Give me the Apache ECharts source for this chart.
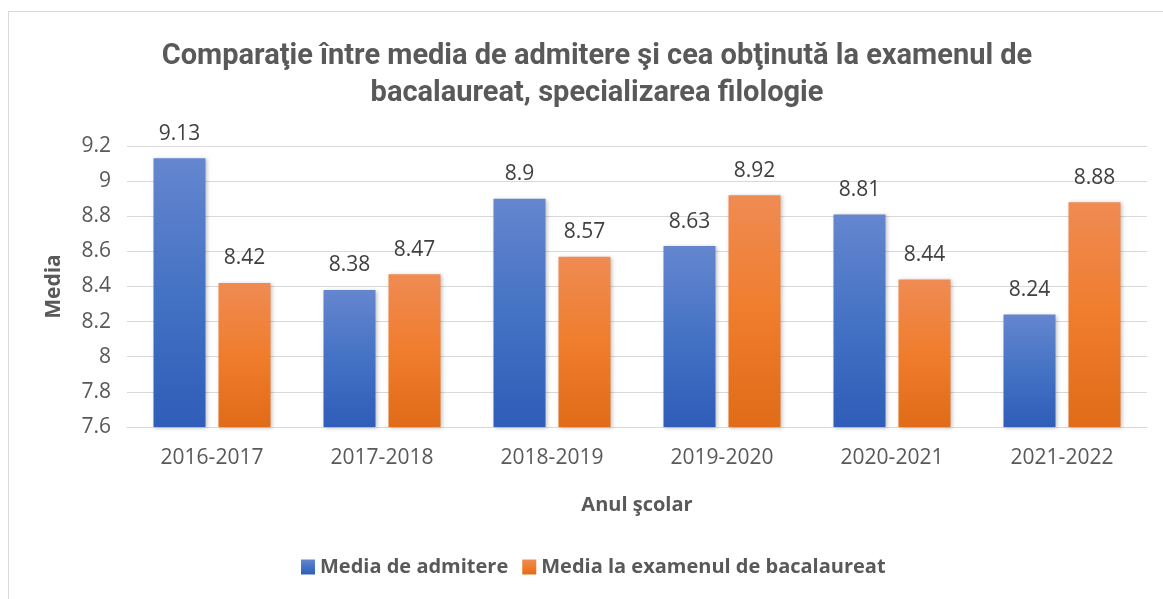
<!DOCTYPE html>
<html>
<head>
<meta charset="utf-8">
<script src="https://cdn.jsdelivr.net/npm/echarts@6/dist/echarts.min.js"></script>
<style>
  html, body { margin: 0; padding: 0; background: #fff; }
  #chart { width: 1163px; height: 599px; }
  .frame { position: absolute; left: 8px; top: 11px; width: 1170px; height: 600px; border: 1px solid #d9d9d9; pointer-events: none; }
</style>
</head>
<body>
<div id="chart"></div>
<div class="frame"></div>
<script>
var categories = ['2016-2017', '2017-2018', '2018-2019', '2019-2020', '2020-2021', '2021-2022']
var admitere = [9.13, 8.38, 8.9, 8.63, 8.81, 8.24]
var bacalaureat = [8.42, 8.47, 8.57, 8.92, 8.44, 8.88]
var yTicks = [7.6, 7.8, 8, 8.2, 8.4, 8.6, 8.8, 9, 9.2]

var chart = echarts.init(document.getElementById('chart'))
var font = 'Open Sans, DejaVu Sans, sans-serif'

function grad(top, mid, bottom) {
  return new echarts.graphic.LinearGradient(0, 0, 0, 1, [
    { offset: 0, color: top },
    { offset: 0.5, color: mid },
    { offset: 1, color: bottom }
  ])
}

var option = {
  animation: false,
  title: {
    text: 'Comparaţie între media de admitere şi cea obţinută la examenul de\nbacalaureat, specializarea filologie',
    left: 592,
    textAlign: 'center',
    top: 33,
    textStyle: {
      color: '#595959',
      fontSize: 29,
      fontWeight: 'bold',
      fontFamily: 'Roboto, sans-serif',
      lineHeight: 37
    }
  },
  legend: {
    bottom: 17,
    left: 296,
    itemWidth: 14,
    itemHeight: 15,
    itemGap: 14,
    icon: 'rect',
    textStyle: { color: '#595959', fontSize: 20, fontWeight: 'bold', fontFamily: font },
    data: ['Media de admitere', 'Media la examenul de bacalaureat']
  },
  grid: { left: 127, right: 16, top: 146, bottom: 172, containLabel: false },
  xAxis: {
    type: 'category',
    data: categories,
    name: 'Anul şcolar',
    nameLocation: 'middle',
    nameGap: 68,
    nameTextStyle: { color: '#595959', fontSize: 20, fontWeight: 'bold', fontFamily: font },
    axisLine: { lineStyle: { color: '#d9d9d9', width: 1 } },
    axisTick: { show: false },
    axisLabel: { color: '#595959', fontSize: 21, margin: 21, fontFamily: font }
  },
  yAxis: {
    type: 'value',
    min: 7.6,
    max: 9.2,
    interval: 0.2,
    name: 'Media',
    nameLocation: 'middle',
    nameGap: 62,
    nameTextStyle: { color: '#595959', fontSize: 21, fontWeight: 'bold', fontFamily: font },
    axisLine: { show: false },
    axisTick: { show: false },
    splitLine: { lineStyle: { color: '#d9d9d9', width: 1 } },
    axisLabel: {
      color: '#595959',
      fontSize: 21,
      margin: 16,
      fontFamily: font,
      formatter: function(v) {
        var t = yTicks.find(function(k) { return Math.abs(k - v) < 1e-6 })
        return t === undefined ? '' : String(t)
      }
    }
  },
  series: [
    {
      name: 'Media de admitere',
      type: 'bar',
      data: admitere,
      barWidth: 52,
      barGap: '25%',
      itemStyle: {
        color: grad('#6586cf', '#4472c4', '#2f5db8'),
        shadowColor: 'rgba(0,0,0,0.25)',
        shadowBlur: 4,
        shadowOffsetX: 1,
        shadowOffsetY: 1
      },
      label: {
        show: true,
        position: 'top',
        distance: 14,
        color: '#404040',
        fontSize: 21,
        fontFamily: font
      }
    },
    {
      name: 'Media la examenul de bacalaureat',
      type: 'bar',
      data: bacalaureat,
      barWidth: 52,
      itemStyle: {
        color: grad('#ef8b53', '#f07d2d', '#e06b18'),
        shadowColor: 'rgba(0,0,0,0.25)',
        shadowBlur: 4,
        shadowOffsetX: 1,
        shadowOffsetY: 1
      },
      label: {
        show: true,
        position: 'top',
        distance: 14,
        color: '#404040',
        fontSize: 21,
        fontFamily: font
      }
    }
  ],
  color: ['#4472c4', '#ed7d31']
}
chart.setOption(option)
</script>
</body>
</html>
